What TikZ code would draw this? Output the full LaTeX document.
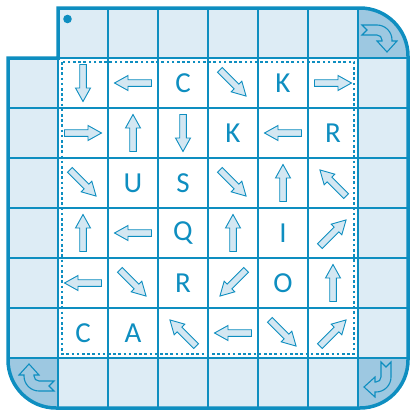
\documentclass[tikz,border=0pt]{standalone}
\usepackage{fontspec}
\setmainfont{Carlito}
\newcommand\letterfont{\fontsize{29pt}{29pt}\selectfont}
\definecolor{lineblue}{HTML}{0E8EC0}
\definecolor{lightfill}{HTML}{DDECF5}
\definecolor{darkfill}{HTML}{9DC8E1}
\definecolor{arrowfill}{HTML}{D4E7F2}
\begin{document}
\begin{tikzpicture}[x=1pt,y=-1pt,
  gridline/.style={draw=lineblue,line width=1.8pt},
  border/.style={draw=lineblue,line width=3.5pt,line join=miter},
  dashbox/.style={draw=lineblue,line width=1.2pt,dash pattern=on 2.6pt off 2.6pt},
  letter/.style={text=lineblue,font=\letterfont,inner sep=0pt,anchor=center},
  arrowstyle/.style={draw=lineblue,fill=arrowfill,line width=0.9pt,line join=miter},
  iconstyle/.style={draw=lineblue,line width=1.1pt,line join=miter},
  barr/.pic={\path[arrowstyle] (-18.5,-3.3) -- (5,-3.3) -- (5,-7.5) -- (18.5,0) -- (5,7.5) -- (5,3.3) -- (-18.5,3.3) -- cycle;},
  turnicon/.pic={\path[iconstyle] (-21,-8) -- (-6,-8) .. controls (2.3,-8) and (9,-1.3) .. (9,7) -- (9,8) -- (14,8) -- (4,19) -- (-6,8) -- (-1,8) -- (-1,7) .. controls (-1,4.2) and (-3.2,2) .. (-6,2) -- (-21,2) -- (-16,-3) -- cycle;}
]
\useasboundingbox (0,0) rectangle (410,410);
% base fill
\fill[lightfill] (8,58) -- (58,58) -- (58,8) -- (360,8) .. controls (386.5,8) and (408,29.5) .. (408,56) -- (408,360) .. controls (408,386.5) and (386.5,408) .. (360,408) -- (56,408) .. controls (29.5,408) and (8,386.5) .. (8,360) -- cycle;
\begin{scope}
  \clip (8,58) -- (58,58) -- (58,8) -- (360,8) .. controls (386.5,8) and (408,29.5) .. (408,56) -- (408,360) .. controls (408,386.5) and (386.5,408) .. (360,408) -- (56,408) .. controls (29.5,408) and (8,386.5) .. (8,360) -- cycle;
  \fill[darkfill] (358,8) rectangle (408,58);
  \fill[darkfill] (8,358) rectangle (58,408);
  \fill[darkfill] (358,358) rectangle (408,408);
  \fill[white] (58,58) rectangle (358,358);
  \foreach \k in {58,108,...,358} {
    \draw[gridline] (\k,8) -- (\k,408);
    \draw[gridline] (8,\k) -- (408,\k);
  }
\end{scope}
\draw[border] (8,58) -- (58,58) -- (58,8) -- (360,8) .. controls (386.5,8) and (408,29.5) .. (408,56) -- (408,360) .. controls (408,386.5) and (386.5,408) .. (360,408) -- (56,408) .. controls (29.5,408) and (8,386.5) .. (8,360) -- cycle;
\draw[dashbox] (62,62) rectangle (354,354);
% dot
\fill[lineblue] (67.5,19) circle[radius=4.3];
% corner icons
\pic (icTR) at (383,33) {turnicon};
\pic[rotate=-90] (icBR) at (383,383) {turnicon};
\pic[rotate=180] (icBL) at (33,383) {turnicon};
% row 1
\pic[rotate=-90] (a11) at (83,83) {barr};
\pic[rotate=180] (a12) at (133,83) {barr};
\node[letter] (l13) at (183,83) {C};
\pic[rotate=-45] (a14) at (233,83) {barr};
\node[letter] (l15) at (283,83) {K};
\pic[rotate=0] (a16) at (333,83) {barr};
% row 2
\pic[rotate=0] (a21) at (83,133) {barr};
\pic[rotate=90] (a22) at (133,133) {barr};
\pic[rotate=-90] (a23) at (183,133) {barr};
\node[letter] (l24) at (233,133) {K};
\pic[rotate=180] (a25) at (283,133) {barr};
\node[letter] (l26) at (333,133) {R};
% row 3
\pic[rotate=-45] (a31) at (83,183) {barr};
\node[letter] (l32) at (133,183) {U};
\node[letter] (l33) at (183,183) {S};
\pic[rotate=-45] (a34) at (233,183) {barr};
\pic[rotate=90] (a35) at (283,183) {barr};
\pic[rotate=135] (a36) at (333,183) {barr};
% row 4
\pic[rotate=90] (a41) at (83,233) {barr};
\pic[rotate=180] (a42) at (133,233) {barr};
\node[letter] (l43) at (183,233) {Q};
\pic[rotate=90] (a44) at (233,233) {barr};
\node[letter] (l45) at (283,233) {I};
\pic[rotate=45] (a46) at (333,233) {barr};
% row 5
\pic[rotate=180] (a51) at (83,283) {barr};
\pic[rotate=-45] (a52) at (133,283) {barr};
\node[letter] (l53) at (183,283) {R};
\pic[rotate=-135] (a54) at (233,283) {barr};
\node[letter] (l55) at (283,283) {O};
\pic[rotate=90] (a56) at (333,283) {barr};
% row 6
\node[letter] (l61) at (83,333) {C};
\node[letter] (l62) at (133,333) {A};
\pic[rotate=135] (a63) at (183,333) {barr};
\pic[rotate=180] (a64) at (233,333) {barr};
\pic[rotate=-45] (a65) at (283,333) {barr};
\pic[rotate=45] (a66) at (333,333) {barr};
\end{tikzpicture}
\end{document}
